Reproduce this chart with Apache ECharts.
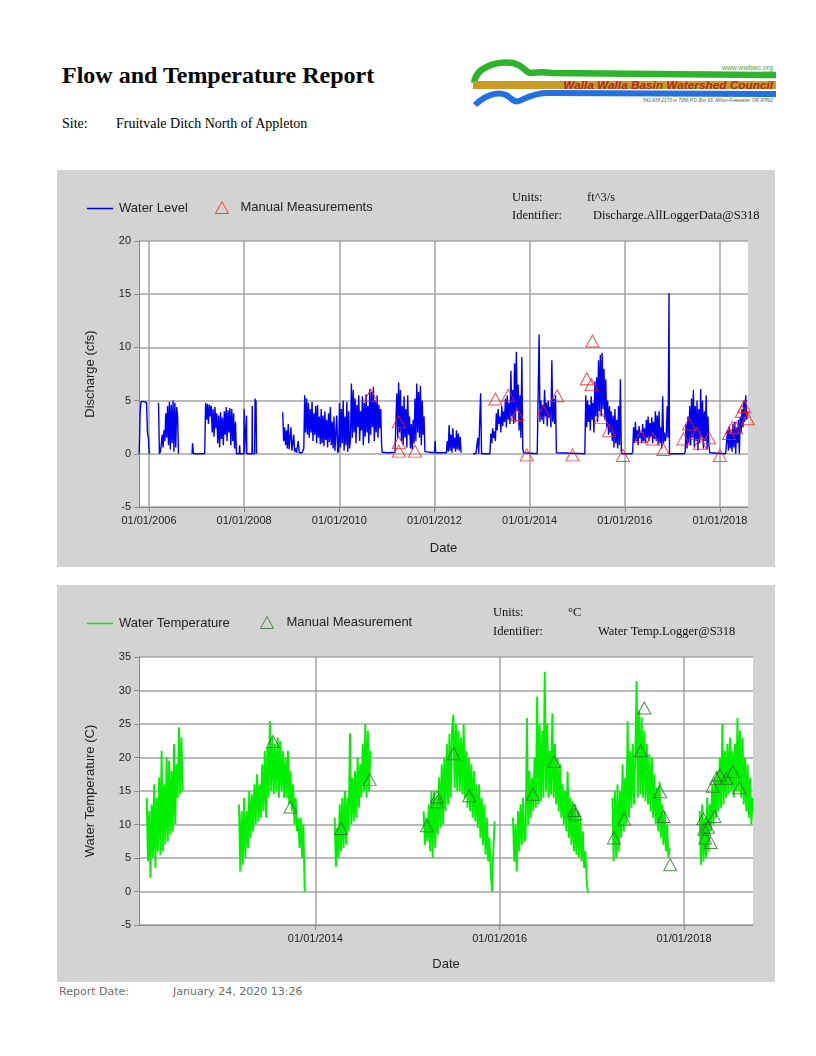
<!DOCTYPE html>
<html>
<head>
<meta charset="utf-8">
<script src="https://cdn.jsdelivr.net/npm/echarts@6/dist/echarts.min.js"></script>
<style>
html,body{margin:0;padding:0;background:#fff;}
#page{position:relative;width:816px;height:1056px;overflow:hidden;}
.abs{position:absolute;white-space:nowrap;}
.serif{font-family:"Liberation Serif","Times New Roman",serif;color:#000;}
#title{left:62px;top:62px;font-size:24px;line-height:26px;font-weight:bold;}
#siteL{left:62px;top:116px;font-size:14px;line-height:16px;}
#siteV{left:116px;top:116px;font-size:14px;line-height:16px;}
.foot{font-family:"DejaVu Sans",Verdana,sans-serif;font-size:11px;line-height:13px;color:#6e6e6e;top:985px;}
#chartQ{left:57px;top:170px;width:718px;height:397px;}
#chartT{left:57px;top:585px;width:718px;height:397px;}
</style>
</head>
<body>
<div id="page">
  <div id="title" class="abs serif">Flow and Temperature Report</div>
  <div id="siteL" class="abs serif">Site:</div>
  <div id="siteV" class="abs serif">Fruitvale Ditch North of Appleton</div>
  <svg class="abs" style="left:0;top:0" width="816" height="120" viewBox="0 0 816 120">
    <path d="M474,83 C476,67 496,61 513,63 C523,65 526,73 531,73 C537,73 540,71 552,73 L776,75" stroke="#2db42d" stroke-width="6.5" fill="none"/>
    <rect x="473" y="81" width="303" height="8" fill="#c99b24"/>
    <path d="M475,105 C484,96 497,91 506,95 C512,98 513,103 519,101 C527,98 533,93 548,93 L776,94" stroke="#2370e0" stroke-width="6" fill="none"/>
    <text x="773" y="70" font-size="7" fill="#5aa03a" text-anchor="end" font-family="Liberation Sans">www.wwbwc.org</text>
    <text x="773" y="89" font-size="11.8" font-weight="bold" font-style="italic" fill="#b3261a" text-anchor="end" font-family="Liberation Sans">Walla Walla Basin Watershed Council</text>
    <text x="773" y="101.5" font-size="4.6" fill="#555" text-anchor="end" font-family="Liberation Sans" font-style="italic">541-938-2170 or 7086      P.O.Box 68, Milton-Freewater, OR 97862</text>
  </svg>
  <div id="chartQ" class="abs"></div>
  <div id="chartT" class="abs"></div>
  <div class="abs foot" style="left:59px;">Report Date:</div>
  <div class="abs foot" style="left:173px;">January 24, 2020 13:26</div>
</div>
<script>
// ---------- tick labels ----------
const flowTickYears = [2006, 2008, 2010, 2012, 2014, 2016, 2018];
const tempTickYears = [2014, 2016, 2018];

// ---------- Discharge (cfs) logger record: values evenly spaced between start/end year ----------
const q2005 = [0, 4.0, 4.9, 4.8, 5.0, 4.9, 5.0, 4.9, 4.8, 2.0, 1.5, 0];
const q2006 = [4.8, 0, 0.2, 0.8, 1.8, 0.6, 2.2, 1.2, 3.8, 1.5, 4.5, 0.8, 4.9, 0.4, 4.6, 1.0, 5.0, 0.2, 4.8, 0.6, 4.4, 3.5, 0];
const q2006Spike = [0, 1.0, 0.9, 0];
const q2007 = [0, 4.8, 3.2, 4.7, 2.8, 4.6, 3.5, 4.5, 2.0, 4.2, 1.6, 4.4, 2.4, 3.8, 1.0, 3.6, 0.6, 3.9, 1.4, 3.4, 0.8, 4.0, 1.8, 4.4, 1.2, 4.1, 2.0, 4.3, 0.8, 4.2, 1.2, 3.8, 0.5, 3.0, 0];
const q2008SpikeA = [0, 0.8, 0];
const q2008SpikeB = [0, 4.2, 0];
const q2008SpikeC = [0, 3.6, 0];
const q2008SpikeD = [0, 4.5, 0];
const q2008SpikeE = [0, 5.2, 2.0, 5.0, 0];
const q2009 = [3.9, 1.2, 2.5, 0.8, 2.2, 0.5, 2.8, 0.4, 1.5,
  2.5, 0.3, 0.2, 1.8, 0.2, 0.5, 0.1, 0.1, 1.2, 0.1, 0.1,
  0.2, 0.1, 0.3, 0.5,
  5.5, 2.0, 5.2, 1.8,
  4.8, 1.5, 4.2, 2.0, 4.9, 1.2, 3.8, 1.8, 4.5, 1.0, 4.6, 1.5, 3.5, 0.9, 4.2,
  1.0, 3.6, 0.7, 4.0, 1.3, 3.2, 0.6, 3.8, 1.1, 4.4, 0.8, 3.0, 0.5, 3.5, 0.3,
  0.2, 3.6, 0.1, 0.3,
  4.8, 0.6, 4.2, 1.0, 5.0, 0.3, 3.5, 0.8, 4.9, 0.2,
  4.0, 0.5, 1.5, 6.6,
  1.5, 6.0, 2.0, 5.2, 1.0, 4.6, 2.5, 5.5, 1.2, 4.0, 2.2, 5.4, 0.8, 4.8, 1.6, 5.6, 2.0, 4.5,
  1.0, 6.1, 1.8, 5.8, 2.5, 6.3, 1.2, 5.0, 2.0, 5.5, 1.5, 4.6, 2.4, 4.2, 0.8];
const q2010Low = [0.15, 0.1, 0.15];
const q2011 = [0.2, 5.7, 1.5, 6.7, 2.0, 6.0, 1.2, 4.5, 0.8, 5.4, 1.5, 4.2, 0.6, 5.5, 1.8, 3.5, 0.5, 2.8, 0.4, 3.2, 1.0, 5.2, 1.2, 6.6, 2.0, 5.8, 1.5, 6.4, 0.8, 5.0, 1.8, 3.5, 0.2];
const q2011Low = [0.1, 0.1];
const q2012Spike = [0.1, 1.2, 0.1];
const q2012 = [0.1, 1.2, 0.2, 2.7, 0.3, 1.8, 0.1, 2.4, 0.5, 1.5, 0.2, 2.2, 0.4, 1.9, 0.3, 1.6, 0.1];
const q2012Late = [0, 0, 0, 0, 0, 1.5, 0, 0, 5.7, 0, 0];
const q2013 = [0, 1.9, 1.0, 2.4, 1.5, 2.1, 1.2, 3.8, 2.2, 4.2, 2.8, 3.5, 2.0, 4.5, 2.6, 4.0, 3.0, 5.2, 2.5, 5.5, 3.2, 4.8, 2.8, 7.8, 3.5, 6.0, 2.8, 8.5, 3.0, 9.6, 4.0, 6.5, 2.2, 5.5, 1.5, 9.1, 0.5, 0.1];
const qZero = [0, 0];
const q2014 = [0, 11.2, 3.0, 5.0, 3.2, 4.6, 2.8, 6.0, 3.5, 4.8, 2.6, 5.0, 3.4, 4.4, 2.5, 8.8, 3.0, 5.2, 2.8, 5.5, 0.1];
const q2015 = [5.5, 2.5, 5.0, 3.0, 4.6, 2.2, 5.4, 3.2, 4.8, 2.0, 6.8, 3.5, 7.2, 3.0, 8.8, 4.0, 9.3, 3.5, 9.5, 4.2, 8.0, 3.2, 7.0, 2.5, 5.0, 1.8, 4.5, 2.0, 4.0, 1.2, 3.6, 0.6, 4.2, 1.0, 3.2, 0.5, 4.5, 0.8, 7.0, 0.2];
const q2016 = [0.2, 2.5, 1.0, 3.0, 1.2, 2.2, 0.8, 2.6, 1.5, 2.0, 1.0, 2.8, 1.2, 2.4, 1.0, 3.2, 1.5, 3.5, 1.2, 2.9, 1.6, 3.4, 1.0, 3.0, 1.4, 4.0, 1.2, 3.6, 0.8, 4.0, 1.0, 2.5, 0.5, 5.4, 1.0, 2.0, 1.2, 1.8, 4.5, 1.5, 15.1];
const q2017 = [0.2, 2.8, 0.5, 3.5, 1.0, 4.5, 0.8, 5.2, 1.5, 6.0, 0.6, 4.5, 1.2, 5.0, 0.3, 4.2, 1.0, 6.1, 1.5, 5.0, 0.5, 4.0, 1.2, 5.5, 0.4, 3.5, 0.8, 0.1];
const q2018 = [0.1, 2.2, 0.3, 2.6, 0.5, 2.0, 0.2, 2.8, 0.6, 3.0, 0.0, 2.5, 1.0, 3.2, 0.0, 3.5, 2.0, 4.2, 2.5, 5.0, 3.0, 5.5, 3.2, 4.0];

// [startYear, endYear, values]; null = gap in the record
const flowSegments = [
  [2005.795, 2006.006, q2005], null,
  [2006.20, 2006.62, q2006], null,
  [2006.905, 2006.935, q2006Spike],
  [2007.171, 2007.838, q2007],
  [2007.895, 2007.915, q2008SpikeA],
  [2007.995, 2008.005, q2008SpikeB],
  [2008.045, 2008.055, q2008SpikeC],
  [2008.165, 2008.175, q2008SpikeD],
  [2008.22, 2008.26, q2008SpikeE], null,
  [2008.811, 2010.89, q2009],
  [2010.90, 2011.17, q2010Low],
  [2011.19, 2011.80, q2011],
  [2011.82, 2012.0, q2011Low],
  [2012.005, 2012.025, q2012Spike],
  [2012.25, 2012.56, q2012], null,
  [2012.81, 2013.01, q2012Late],
  [2013.166, 2013.875, q2013],
  [2013.90, 2014.16, qZero],
  [2014.18, 2014.563, q2014],
  [2014.58, 2015.16, qZero],
  [2015.18, 2015.927, q2015],
  [2015.95, 2016.15, qZero],
  [2016.166, 2016.93, q2016],
  [2016.94, 2017.25, qZero],
  [2017.27, 2017.787, q2017],
  [2017.80, 2018.12, qZero],
  [2018.14, 2018.58, q2018]
];

// manual discharge measurements [year, cfs]
const flowManual = [
  [2010.66, 5.5], [2011.25, 3.0], [2011.25, 1.05], [2011.25, 0.25], [2011.59, 0.25],
  [2013.28, 5.15], [2013.55, 5.5], [2013.74, 3.7], [2013.94, -0.1], [2014.29, 4.0],
  [2014.58, 5.45], [2014.90, -0.1], [2015.20, 7.05], [2015.30, 6.5], [2015.32, 10.6],
  [2015.50, 3.4], [2015.67, 2.2], [2015.96, -0.15], [2016.34, 1.65], [2016.59, 1.4],
  [2016.81, 0.4], [2017.23, 1.4], [2017.35, 2.8], [2017.51, 1.9], [2017.58, 1.0],
  [2017.77, 1.5], [2018.0, -0.15], [2018.19, 1.9], [2018.26, 2.5], [2018.34, 2.45],
  [2018.46, 4.0], [2018.51, 4.45], [2018.585, 3.3]
];

// ---------- Water temperature (C) logger record ----------
const t2012 = [14, 4.5, 12, 2.0, 13, 5.0, 16, 3.5, 14, 6.0, 17, 5.5, 21, 6.0, 16, 7.0, 20, 7.5, 19.5, 8.5, 18, 9.0, 22, 10, 19, 14, 24.5, 14.5, 23, 15];
const t2013 = [13, 3.0, 12, 4.0, 14, 5.0, 12, 6.5, 15, 8.0,
  14.5, 9.0, 16, 10, 17.5, 10.5, 16, 11, 19, 12,
  21, 11, 21.5, 14, 25.4, 15, 23, 14.5, 22, 15,
  23, 14, 22.5, 15, 21, 14, 20, 14, 21, 13,
  18, 12, 16, 10, 14, 9, 11, 6.5, 11, 5.0,
  10, 0];
const t2014 = [11, 3.7, 9.5, 5.0, 13, 6.0, 14, 6.5, 15, 7.0, 14, 9.0, 23.6, 10, 17, 10.5, 18, 11, 20, 12.5, 19, 14, 22, 15, 25, 14, 24, 15, 21];
const t2015 = [12, 7.0, 11, 7.5, 13, 6.0, 15,
  5.0,
  15, 6.5, 14, 8.5, 17, 9.5, 19,
  10, 20, 12, 22,
  13, 23.5, 14, 24,
  26.4,
  15.5, 25, 15, 24, 15, 23, 14.5,
  25,
  14, 21, 12.5, 20,
  12, 19, 11, 18, 10.5, 16, 9.5,
  16, 8.0, 14, 7.0, 13, 5.5, 11,
  4.5, 8, 3.0,
  0,
  6, 10.5];
const t2016 = [11, 4.5, 10, 3.0, 12, 6.0, 13, 7.0, 14, 7.5,
  8.0, 25.9,
  10, 18, 11, 17, 12, 20, 12.5,
  29.1,
  13, 25, 13.5, 24, 14,
  32.8,
  15, 25, 14, 21, 14.5,
  26.6,
  14, 22, 13, 20, 12, 19, 11, 16, 10, 15,
  9.0,
  17.9,
  8.0, 14, 7.0, 13.5, 6.0, 13, 5.5, 12,
  5.0, 11, 4.5, 9, 3.5,
  6, 1.5, -0.2];
const t2017 = [14, 4.5, 15, 5.0, 16, 6.0, 15, 8.0, 19, 9.0, 17, 10,
  25.4,
  11, 21, 12.5, 22, 13, 20,
  31.4,
  14, 27, 14.5, 26, 14, 24, 13.5, 22, 13, 20.5, 12, 20,
  11, 17.5, 10, 15.5, 9.0,
  16.4,
  8.0, 13, 7.0, 12, 6.0, 10, 5.0, 6.5];
const t2018 = [12, 4.0, 13, 4.5, 11, 5.0, 14, 6.0, 13, 9.0, 16, 10, 17, 11, 18, 12, 20, 12.5,
  25,
  13, 21, 14, 22, 14.5, 23, 15, 21, 14, 22,
  15, 25.9,
  15, 24, 14, 23, 13, 20, 12, 19, 11, 17, 10, 14];

const tempSegments = [
  [2012.17, 2012.56, t2012], null,
  [2013.171, 2013.884, t2013], null,
  [2014.209, 2014.597, t2014], null,
  [2015.175, 2015.945, t2015], null,
  [2016.144, 2016.958, t2016], null,
  [2017.223, 2017.845, t2017], null,
  [2018.17, 2018.745, t2018]
];

// manual temperature measurements [year, C]
const tempManual = [
  [2013.54, 22.4], [2013.73, 12.6], [2014.28, 9.4], [2014.59, 16.7], [2015.21, 9.8],
  [2015.32, 14.1], [2015.32, 13.4], [2015.50, 20.55], [2015.67, 14.3], [2016.36, 14.5],
  [2016.59, 19.4], [2016.81, 12.1], [2016.82, 11.55], [2017.24, 8.0], [2017.35, 10.8],
  [2017.53, 21.0], [2017.57, 27.4], [2017.74, 14.9], [2017.78, 11.2], [2017.85, 4.0],
  [2018.21, 10.85], [2018.22, 9.3], [2018.23, 8.0], [2018.26, 9.6], [2018.29, 7.3],
  [2018.31, 15.7], [2018.33, 11.2], [2018.35, 16.9], [2018.39, 17.4], [2018.46, 16.9],
  [2018.53, 17.9], [2018.60, 15.5]
];

function expand(segs) {
  const out = [];
  segs.forEach(function (seg) {
    if (!seg) {
      out.push([out.length ? out[out.length - 1][0] : 0, '-']);
      return;
    }
    const s = seg[0], e = seg[1], v = seg[2], n = v.length;
    v.forEach(function (y, i) {
      out.push([n > 1 ? s + (e - s) * i / (n - 1) : s, y]);
    });
  });
  return out;
}

const SANS = '"Liberation Sans", Arial, sans-serif';
const SERIF = '"Liberation Serif", "Times New Roman", serif';
const GRID_C = '#a3a3a3';
const AXIS_C = '#8a8a8a';

function makeOption(cfg) {
  return {
    backgroundColor: '#d3d3d3',
    animation: false,
    textStyle: { fontFamily: SANS },
    grid: {
      left: 82, top: cfg.gridTop, width: cfg.gridW, height: cfg.gridH,
      show: true, backgroundColor: '#ffffff', borderWidth: 0, containLabel: false
    },
    legend: [
      {
        left: 30, top: 32, itemWidth: 26, itemHeight: 1.5, padding: 0,
        selectedMode: false,
        data: [{ name: cfg.lineName, icon: 'rect', itemStyle: { color: cfg.lineColor } }],
        textStyle: { fontFamily: SANS, fontSize: 13, color: '#222', padding: [0, 0, 0, 1] }
      },
      {
        left: cfg.triLeft, top: 31, itemWidth: 13, itemHeight: 12, padding: 0,
        selectedMode: false,
        data: [{
          name: cfg.triName, icon: 'triangle',
          itemStyle: { color: 'rgba(0,0,0,0)', borderColor: cfg.triColor, borderWidth: 1 }
        }],
        textStyle: { fontFamily: SANS, fontSize: 13, color: '#222', padding: [0, 0, 0, cfg.triPad] }
      }
    ],
    graphic: [
      { type: 'text', left: cfg.unitsX, top: 21, style: { text: 'Units:', font: '12.5px ' + SERIF, fill: '#111' } },
      { type: 'text', left: cfg.unitsValX, top: 21, style: { text: cfg.units, font: '12.5px ' + SERIF, fill: '#111' } },
      { type: 'text', left: cfg.unitsX, top: cfg.idTop, style: { text: 'Identifier:', font: '12.5px ' + SERIF, fill: '#111' } },
      { type: 'text', left: cfg.idValX, top: cfg.idTop, style: { text: cfg.ident, font: '12.5px ' + SERIF, fill: '#111' } }
    ],
    xAxis: {
      type: 'value', min: cfg.xMin, max: cfg.xMax,
      name: 'Date', nameLocation: 'middle', nameGap: cfg.xNameGap,
      nameTextStyle: { fontFamily: SANS, fontSize: 13, color: '#222' },
      axisLine: { show: true, onZero: false, lineStyle: { color: AXIS_C, width: 1 } },
      axisTick: { show: true, length: 5, customValues: cfg.xTicks, lineStyle: { color: AXIS_C } },
      axisLabel: {
        customValues: cfg.xTicks, margin: 8, fontSize: 11, color: '#222', fontFamily: SANS,
        formatter: function (v) { return '01/01/' + Math.round(v); }
      },
      splitLine: { show: true, lineStyle: { color: GRID_C, width: 1.5 } }
    },
    yAxis: {
      type: 'value', min: cfg.yMin, max: cfg.yMax, interval: 5,
      name: cfg.yName, nameLocation: 'middle', nameGap: 42, nameRotate: 90,
      nameTextStyle: { fontFamily: SANS, fontSize: 13, color: '#222' },
      axisLine: { show: true, lineStyle: { color: AXIS_C, width: 1 } },
      axisTick: { show: true, length: 5, lineStyle: { color: AXIS_C } },
      axisLabel: { margin: 8, fontSize: 11, color: '#222', fontFamily: SANS },
      splitLine: { show: true, lineStyle: { color: GRID_C, width: 1.5 } }
    },
    series: [
      {
        name: cfg.lineName, type: 'line', data: cfg.lineData, symbol: 'none',
        connectNulls: false, sampling: null,
        lineStyle: { color: cfg.lineColor, width: cfg.lineWidth },
        itemStyle: { color: cfg.lineColor }, z: 2
      },
      {
        name: cfg.triName, type: 'scatter', data: cfg.triData, symbol: 'triangle',
        symbolSize: [13, 12], clip: false,
        itemStyle: { color: 'rgba(0,0,0,0)', borderColor: cfg.triColor, borderWidth: 1 }, z: 3
      }
    ]
  };
}

const chartQ = echarts.init(document.getElementById('chartQ'), null, { renderer: 'canvas' });
chartQ.setOption(makeOption({
  gridTop: 71, gridW: 609, gridH: 266,
  lineName: 'Water Level', triName: 'Manual Measurements', triLeft: 158, triPad: 7,
  triColor: '#ff1a1a', lineColor: '#0000f0', lineWidth: 1.4,
  unitsX: 455, unitsValX: 530, idValX: 536, idTop: 39,
  units: 'ft^3/s', ident: 'Discharge.AllLoggerData@S318',
  xMin: 2005.79, xMax: 2018.59, xTicks: flowTickYears, xNameGap: 35,
  yMin: -5, yMax: 20, yName: 'Discharge (cfs)',
  lineData: expand(flowSegments), triData: flowManual
}));

const chartT = echarts.init(document.getElementById('chartT'), null, { renderer: 'canvas' });
chartT.setOption(makeOption({
  gridTop: 72, gridW: 614, gridH: 268,
  lineName: 'Water Temperature', triName: 'Manual Measurement', triLeft: 203, triPad: 8,
  triColor: '#2e6e2e', lineColor: '#00f000', lineWidth: 1.9,
  unitsX: 436, unitsValX: 511, idValX: 541, idTop: 40,
  units: '°C', ident: 'Water Temp.Logger@S318',
  xMin: 2012.086, xMax: 2018.749, xTicks: tempTickYears, xNameGap: 33,
  yMin: -5, yMax: 35, yName: 'Water Temperature (C)',
  lineData: expand(tempSegments), triData: tempManual
}));
</script>
</body>
</html>
